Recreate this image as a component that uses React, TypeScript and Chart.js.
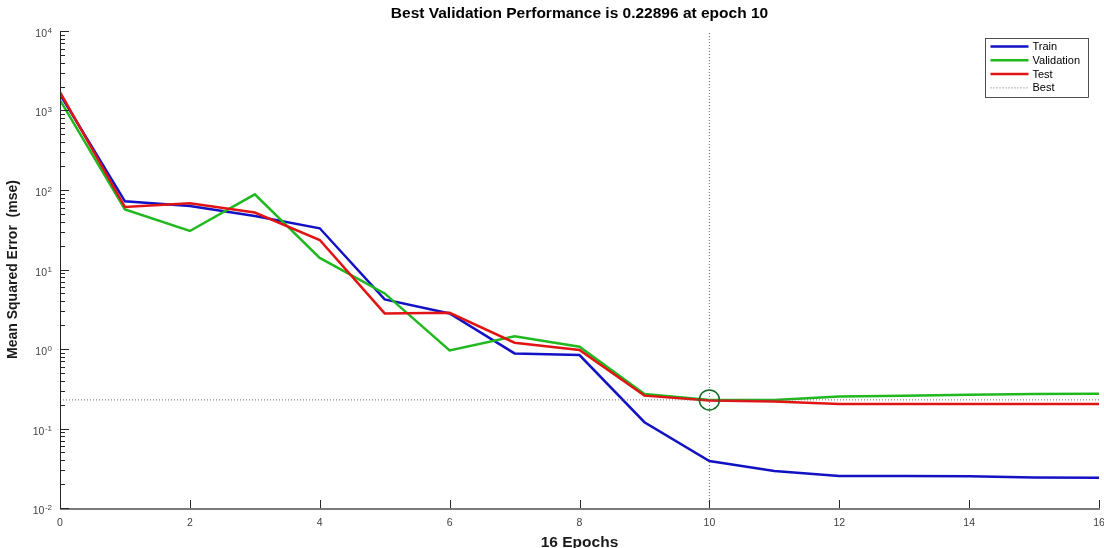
import React, { useEffect, useRef } from 'react';
import { Chart, registerables } from 'chart.js';

Chart.register(...registerables);

const FONT = '"Liberation Sans", Arial, Helvetica, sans-serif';

const EPOCHS = [0, 1, 2, 3, 4, 5, 6, 7, 8, 9, 10, 11, 12, 13, 14, 15, 16];
const TRAIN = [1600, 72, 63, 47, 33, 4.2, 2.8, 0.88, 0.84, 0.12, 0.039, 0.0293, 0.0253, 0.0252, 0.0251, 0.0242, 0.0241];
const VALIDATION = [1350, 57, 30.5, 88, 14, 5.0, 0.96, 1.45, 1.07, 0.272, 0.22896, 0.229, 0.252, 0.259, 0.265, 0.272, 0.273];
const TEST = [1700, 61, 68, 52, 23.5, 2.8, 2.85, 1.2, 0.97, 0.259, 0.225, 0.218, 0.204, 0.204, 0.204, 0.204, 0.204];

const BEST_EPOCH = 10;
const BEST_VALUE = 0.22896;

const X_MIN = 0;
const X_MAX = 16;
const X_TICKS = [0, 2, 4, 6, 8, 10, 12, 14, 16];
const Y_DECADES = [-2, -1, 0, 1, 2, 3, 4];

const TITLE = 'Best Validation Performance is 0.22896 at epoch 10';
const X_TITLE = '16 Epochs';
const Y_TITLE = 'Mean Squared Error  (mse)';
const LEGEND_LABELS = ['Train', 'Validation', 'Test', 'Best'];

const COLORS = {
  train: '#1212c4',
  validation: '#1fb81f',
  test: '#e01414',
  best: '#6a6a6a',
  circle: '#0b6b1e',
};

const decorPlugin = {
  id: 'matlabDecor',
  afterDraw(chart: any) {
    const { ctx, chartArea: a, scales } = chart;
    const xs = scales.x;
    const ys = scales.y;
    ctx.save();

    // title
    ctx.fillStyle = '#000';
    ctx.font = `bold 15.5px ${FONT}`;
    ctx.textAlign = 'center';
    ctx.textBaseline = 'middle';
    ctx.fillText(TITLE, (a.left + a.right) / 2, 14);

    // x axis line
    ctx.strokeStyle = '#7a7a7a';
    ctx.lineWidth = 2;
    ctx.beginPath();
    ctx.moveTo(a.left, a.bottom + 1);
    ctx.lineTo(a.right + 1, a.bottom + 1);
    ctx.stroke();

    // y axis line
    ctx.strokeStyle = '#262626';
    ctx.lineWidth = 1;
    ctx.beginPath();
    ctx.moveTo(a.left + 0.5, a.top);
    ctx.lineTo(a.left + 0.5, a.bottom + 1);
    ctx.stroke();

    // x ticks (inward)
    ctx.strokeStyle = '#262626';
    for (const t of X_TICKS) {
      const px = Math.round(xs.getPixelForValue(t)) + 0.5;
      ctx.beginPath();
      ctx.moveTo(px, a.bottom);
      ctx.lineTo(px, a.bottom - 8);
      ctx.stroke();
    }

    // y ticks + labels
    const maxDec = Y_DECADES[Y_DECADES.length - 1];
    for (const e of Y_DECADES) {
      const v = Math.pow(10, e);
      const py = Math.round(ys.getPixelForValue(v)) + 0.5;
      ctx.strokeStyle = '#262626';
      ctx.beginPath();
      ctx.moveTo(a.left, py);
      ctx.lineTo(a.left + 9, py);
      ctx.stroke();
      if (e < maxDec) {
        for (let m = 2; m <= 9; m++) {
          const pm = Math.round(ys.getPixelForValue(m * v)) + 0.5;
          ctx.beginPath();
          ctx.moveTo(a.left, pm);
          ctx.lineTo(a.left + 5, pm);
          ctx.stroke();
        }
      }
      // label 10^e
      ctx.fillStyle = '#454545';
      const expStr = String(e);
      ctx.font = `8px ${FONT}`;
      const ew = ctx.measureText(expStr).width;
      const rightEdge = a.left - 8;
      ctx.textAlign = 'left';
      ctx.textBaseline = 'alphabetic';
      ctx.fillText(expStr, rightEdge - ew, py + 1.5);
      ctx.font = `10.5px ${FONT}`;
      ctx.textAlign = 'right';
      ctx.textBaseline = 'alphabetic';
      ctx.fillText('10', rightEdge - ew - 0.5, py + 5);
    }

    // legend
    const bw = 103;
    const bh = 59;
    const bx = Math.round(a.right - 11 - bw) + 0.5;
    const by = Math.round(a.top + 7) + 0.5;
    ctx.fillStyle = '#fff';
    ctx.fillRect(bx, by, bw, bh);
    ctx.strokeStyle = '#262626';
    ctx.lineWidth = 0.8;
    ctx.strokeRect(bx, by, bw, bh);
    const legendColors = [COLORS.train, COLORS.validation, COLORS.test, COLORS.best];
    ctx.font = `11px ${FONT}`;
    ctx.textAlign = 'left';
    ctx.textBaseline = 'middle';
    LEGEND_LABELS.forEach((lab, i) => {
      const ly = by + 8 + i * 13.8;
      ctx.strokeStyle = legendColors[i];
      if (i === 3) {
        ctx.lineWidth = 1;
        ctx.setLineDash([1, 2]);
      } else {
        ctx.lineWidth = 2.5;
        ctx.setLineDash([]);
      }
      ctx.beginPath();
      ctx.moveTo(bx + 5, ly);
      ctx.lineTo(bx + 43, ly);
      ctx.stroke();
      ctx.setLineDash([]);
      ctx.fillStyle = '#000';
      ctx.fillText(lab, bx + 47, ly + 0.5);
    });

    ctx.restore();
  },
};

function pts(values: number[]) {
  return EPOCHS.map((x, i) => ({ x, y: values[i] }));
}

export default function App() {
  const canvasRef = useRef<HTMLCanvasElement | null>(null);

  useEffect(() => {
    const canvas = canvasRef.current;
    if (!canvas) return;
    const chart = new Chart(canvas, {
      type: 'line',
      data: {
        datasets: [
          {
            label: 'Train',
            data: pts(TRAIN),
            borderColor: COLORS.train,
            borderWidth: 2.5,
            pointRadius: 0,
            order: 3,
          },
          {
            label: 'Validation',
            data: pts(VALIDATION),
            borderColor: COLORS.validation,
            borderWidth: 2.5,
            pointRadius: 0,
            order: 2,
          },
          {
            label: 'Test',
            data: pts(TEST),
            borderColor: COLORS.test,
            borderWidth: 2.5,
            pointRadius: 0,
            order: 1,
          },
          {
            label: 'Best',
            data: [
              { x: BEST_EPOCH, y: 0.01 },
              { x: BEST_EPOCH, y: 10000 },
            ],
            borderColor: COLORS.best,
            borderWidth: 1,
            borderDash: [1, 2],
            pointRadius: 0,
            order: 0,
          },
          {
            label: 'BestH',
            data: [
              { x: X_MIN, y: BEST_VALUE },
              { x: X_MAX, y: BEST_VALUE },
            ],
            borderColor: COLORS.best,
            borderWidth: 1,
            borderDash: [1, 2],
            pointRadius: 0,
            order: 0,
          },
          {
            label: 'BestPoint',
            data: [{ x: BEST_EPOCH, y: BEST_VALUE }],
            showLine: false,
            pointRadius: 10,
            pointBorderWidth: 1.5,
            pointBorderColor: COLORS.circle,
            pointBackgroundColor: 'rgba(0,0,0,0)',
            borderColor: COLORS.circle,
            order: 0,
          },
        ],
      },
      options: {
        animation: false,
        responsive: false,
        devicePixelRatio: 1,
        layout: { autoPadding: false, padding: { top: 31, right: 5, left: 0, bottom: 0 } },
        plugins: {
          legend: { display: false },
          title: { display: false },
          tooltip: { enabled: false },
        },
        elements: { line: { tension: 0 } },
        scales: {
          x: {
            type: 'linear',
            min: X_MIN,
            max: X_MAX,
            afterFit: (s: any) => {
              s.height = 40;
              s.paddingRight = 0;
              s.paddingLeft = 0;
            },
            grid: { display: false, drawTicks: false },
            border: { display: false },
            ticks: {
              stepSize: 2,
              color: '#404040',
              font: { family: FONT, size: 10.5 },
              padding: 9,
              maxRotation: 0,
            },
            title: {
              display: true,
              text: X_TITLE,
              color: '#1a1a1a',
              font: { family: FONT, size: 15.5, weight: 'bold', lineHeight: 1 },
              padding: { top: 0, bottom: -2 },
            },
          },
          y: {
            type: 'logarithmic',
            min: 0.01,
            max: 10000,
            afterFit: (s: any) => {
              s.width = 60;
            },
            grid: { display: false, drawTicks: false },
            border: { display: false },
            ticks: { display: false },
            title: {
              display: true,
              text: Y_TITLE,
              color: '#1a1a1a',
              font: { family: FONT, size: 14, weight: 'bold', lineHeight: 1.2 },
              padding: { top: 5, bottom: 0 },
            },
          },
        },
      },
      plugins: [decorPlugin],
    } as any);
    return () => chart.destroy();
  }, []);

  return (
    <div style={{ position: 'absolute', left: 0, top: 0, width: 1104, height: 548, background: '#fff' }}>
      <canvas ref={canvasRef} width={1104} height={548} style={{ display: 'block' }} />
    </div>
  );
}
